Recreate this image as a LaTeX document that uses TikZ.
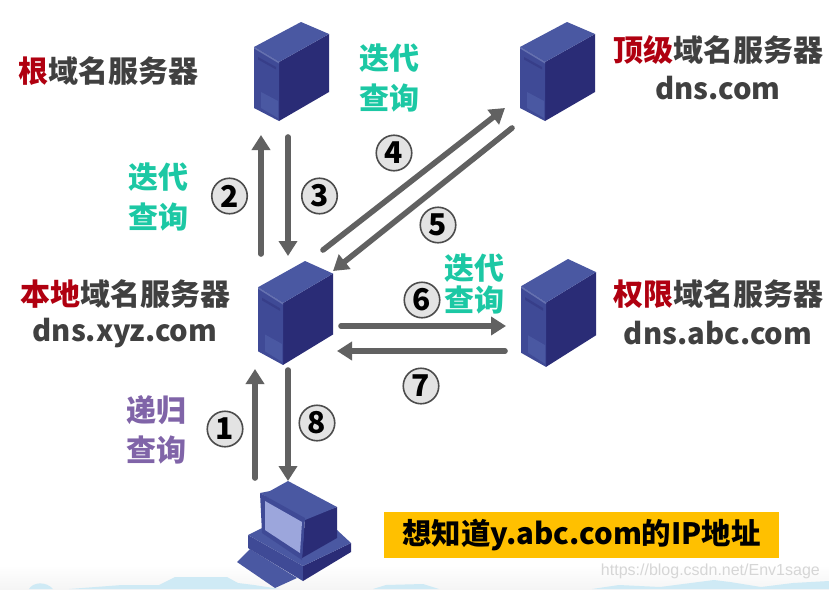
\documentclass[tikz,border=0pt]{standalone}
\usepackage{fontspec}
\setmainfont{Noto Sans CJK SC}
\newfontfamily\wmfont{Liberation Sans}
\usetikzlibrary{arrows.meta}
\definecolor{lbl}{HTML}{404040}
\definecolor{redc}{HTML}{B00010}
\definecolor{teal1}{HTML}{1CC8A4}
\definecolor{purp}{HTML}{8064A8}
\definecolor{arr}{HTML}{616161}
\definecolor{sfront}{HTML}{3F4A96}
\definecolor{stop}{HTML}{4A58A2}
\definecolor{sside}{HTML}{2A2C76}
\definecolor{sky}{HTML}{CFEAF5}
\definecolor{screenc}{HTML}{9CA6DC}
\definecolor{boxc}{HTML}{FFC000}
\tikzset{
 x=1pt,y=-1pt,
 big/.style={font=\fontsize{30}{32}\selectfont\bfseries,text=lbl,inner sep=0pt,anchor=center},
 latinlbl/.style={font=\fontsize{29.2}{32}\selectfont\bfseries,text=lbl,inner sep=0pt,anchor=center},
 teallbl/.style={font=\fontsize{30}{32}\selectfont\bfseries,text=teal1,inner sep=0pt},
 purplbl/.style={font=\fontsize{30}{32}\selectfont\bfseries,text=purp,inner sep=0pt},
 num/.style={circle,draw=black!70,line width=1.6pt,fill=black!11,minimum size=35.5pt,inner sep=0pt,font=\fontsize{30}{30}\selectfont\bfseries,text=black},
 flow/.style={draw=arr,line width=5.6pt,line cap=round,-{Triangle[length=15pt,width=18pt]}},
 server/.pic={
  \fill[sside] (25,40)--(75,12)--(75,70)--(25,99)--cycle;
  \fill[stop] (0,25)--(47,0)--(75,12)--(25,40)--cycle;
  \fill[sfront] (0,25)--(25,40)--(25,99)--(0,86)--cycle;
  \fill[stop!85!white] (0,25)--(25,40)--(25,41.5)--(0,26.5)--cycle;
  \fill[sside!40!sfront] (4,35)--(22,45)--(22,47.5)--(4,37.5)--cycle;
  \fill[stop] (7,70)--(24,79)--(24,96)--(7,86)--cycle;
 }
}
\begin{document}
\begin{tikzpicture}
\useasboundingbox (0,0) rectangle (829,589);
\fill[white] (0,0) rectangle (829,589);
% background clouds at the bottom
\shade[top color=white,bottom color=black!4] (0,565) rectangle (829,589);
\fill[sky] (29,589) .. controls (33,582) and (46,581) .. (53,589) -- cycle;
\fill[sky] (69,589) -- (122,585) -- (159,585) -- (175,577) -- (227,577) -- (238,583) -- (254,585) -- (280,589) -- cycle;
\fill[sky] (373,589) -- (386,585) -- (423,584) -- (439,589) -- cycle;
\fill[sky] (592,589) -- (619,585) -- (660,587) -- (714,580) -- (730,582) -- (761,587) -- (793,583) -- (829,581) -- (829,589) -- cycle;

% servers
\pic at (254,22) {server};
\pic at (520,22) {server};
\pic[yscale=1.05] at (258,261) {server};
\pic[yscale=1.09] at (521,259) {server};

% computer
\fill[stop] (237,562)--(250,549)--(297,578)--(275,588)--cycle;
\fill[sfront] (248,535)--(303,566)--(303,581)--(248,548)--cycle;
\fill[sside] (303,566)--(351,543)--(351,552)--(303,581)--cycle;
\fill[stop] (248,535)--(262,528)--(337,530)--(351,543)--(303,566)--cycle;
\fill[sside] (305,518)--(337,507)--(337,538)--(302,558)--cycle;
\fill[stop] (260,493)--(270,491)--(288,481)--(337,507)--(305,520)--cycle;
\fill[sfront] (260,493)--(305,518)--(302,560)--(262,533)--cycle;
\fill[screenc] (265,501)--(302,522)--(300,553)--(265,530)--cycle;

% arrow end points
\coordinate (a2s) at (261,254); \coordinate (a2e) at (261,135);
\coordinate (a3s) at (288,137); \coordinate (a3e) at (288,256);
\coordinate (a4s) at (323,250); \coordinate (a4e) at (505,108);
\coordinate (a5s) at (512,128); \coordinate (a5e) at (333,271);
\coordinate (a6s) at (341,326); \coordinate (a6e) at (506,326);
\coordinate (a7s) at (505,351); \coordinate (a7e) at (337,351);
\coordinate (a1s) at (255,478); \coordinate (a1e) at (255,369);
\coordinate (a8s) at (288,370); \coordinate (a8e) at (288,481);
\draw[flow] (a2s) -- (a2e);
\draw[flow] (a3s) -- (a3e);
\draw[flow] (a4s) -- (a4e);
\draw[flow] (a5s) -- (a5e);
\draw[flow] (a6s) -- (a6e);
\draw[flow] (a7s) -- (a7e);
\draw[flow] (a1s) -- (a1e);
\draw[flow] (a8s) -- (a8e);

% numbers
\node[num] (n1) at (225,429) {1};
\node[num] (n2) at (229.5,196) {2};
\node[num] (n3) at (319.5,196) {3};
\node[num] (n4) at (394,153) {4};
\node[num] (n5) at (438,225) {5};
\node[num] (n6) at (422,300) {6};
\node[num] (n7) at (421,386) {7};
\node[num] (n8) at (317,423) {8};

% server labels
\node[big] (root) at (108,71) {\textcolor{redc}{根}域名服务器};
\node[big] (tld) at (718,50) {\textcolor{redc}{顶级}域名服务器};
\node[latinlbl] (tldn) at (718,88) {dns.com};
\node[big] (loc) at (125,294) {\textcolor{redc}{本地}域名服务器};
\node[latinlbl] (locn) at (125,333) {dns.xyz.com};
\node[big] (aut) at (718,294) {\textcolor{redc}{权限}域名服务器};
\node[latinlbl] (autn) at (718,333) {dns.abc.com};

% query labels
\node[teallbl] (i1a) at (389,58) {迭代};
\node[teallbl] (i1b) at (389,98) {查询};
\node[teallbl] (i2a) at (158,177) {迭代};
\node[teallbl] (i2b) at (158,217) {查询};
\node[teallbl] (i3a) at (474,268) {迭代};
\node[teallbl] (i3b) at (474,300) {查询};
\node[purplbl] (r1) at (156,410) {递归};
\node[purplbl] (r2) at (156,450) {查询};

% question box
\node[fill=boxc,minimum width=395pt,minimum height=46pt,inner sep=0pt,text=black] (ask) at (581.5,535) {\raisebox{-3pt}{\fontsize{29.4}{31}\selectfont\bfseries 想知道y.abc.com的IP地址}};

% watermark
\node[font=\wmfont\fontsize{16}{18}\selectfont,text=black!16,inner sep=0pt,anchor=east] (wm) at (820,571) {https://blog.csdn.net/Env1sage};
\end{tikzpicture}
\end{document}
